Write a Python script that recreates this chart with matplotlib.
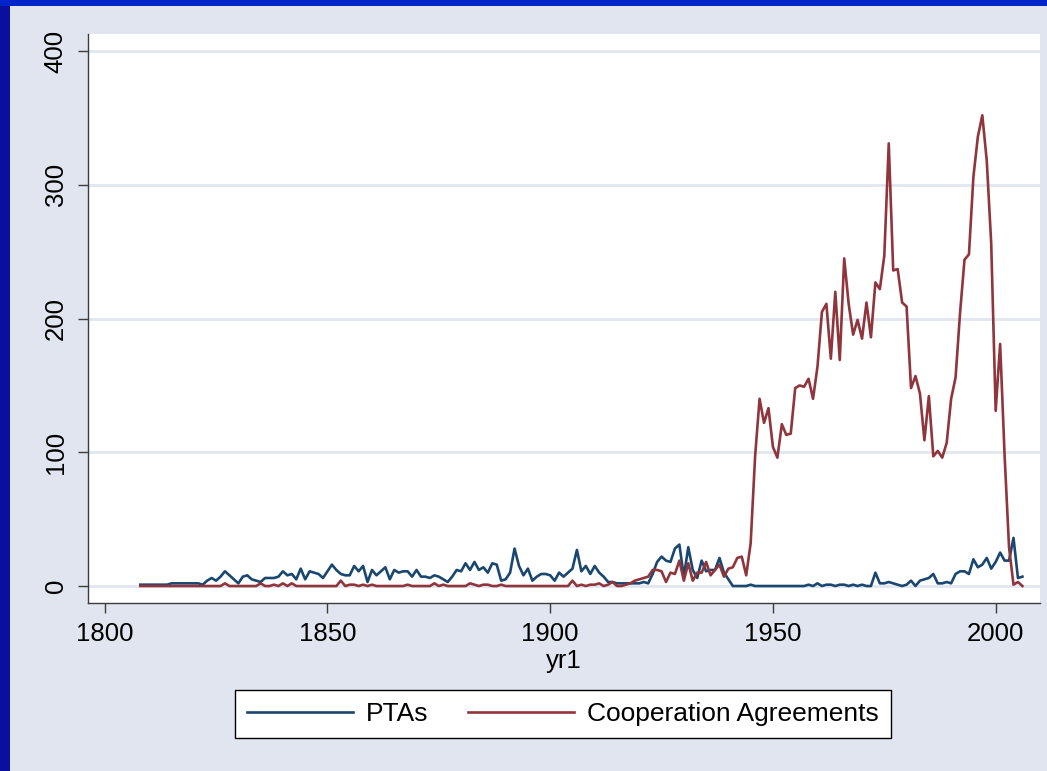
import numpy as np
import matplotlib
matplotlib.use("Agg")
import matplotlib.pyplot as plt
from matplotlib.patches import Rectangle

plt.rcParams['font.family'] = ['Liberation Sans', 'DejaVu Sans']

# yearly counts, 1808-2006
years = list(range(1808, 2007))

ptas = [
    1, 1, 1, 1, 1, 1, 1, 2, 2, 2,          # 1808-1817
    2, 2, 2, 2, 1, 4, 6, 4, 7, 11,         # 1818-1827
    8, 5, 2, 7, 8, 5, 4, 3, 6, 6,          # 1828-1837
    6, 7, 11, 8, 9, 5, 13, 5, 11, 10,      # 1838-1847
    9, 6, 11, 16, 12, 9, 8, 8, 15, 11,     # 1848-1857
    15, 3, 12, 8, 11, 14, 5, 12, 10, 11,   # 1858-1867
    11, 7, 12, 7, 7, 6, 8, 7, 5, 3,        # 1868-1877
    7, 12, 11, 17, 12, 18, 12, 14, 10, 17, # 1878-1887
    16, 4, 5, 10, 28, 15, 8, 13, 4, 7,     # 1888-1897
    9, 9, 8, 4, 10, 7, 10, 13, 27, 11,     # 1898-1907
    15, 9, 15, 10, 7, 3, 3, 2, 2, 2,       # 1908-1917
    2, 2, 2, 3, 2, 9, 18, 22, 19, 18,      # 1918-1927
    28, 31, 7, 29, 12, 6, 19, 11, 12, 12,  # 1928-1937
    21, 10, 5, 0, 0, 0, 0, 1, 0, 0,        # 1938-1947
    0, 0, 0, 0, 0, 0, 0, 0, 0, 0,          # 1948-1957
    1, 0, 2, 0, 1, 1, 0, 1, 1, 0,          # 1958-1967
    1, 0, 1, 0, 0, 10, 2, 2, 3, 2,         # 1968-1977
    1, 0, 1, 4, 0, 4, 5, 6, 9, 2,          # 1978-1987
    2, 3, 2, 9, 11, 11, 9, 20, 14, 16,     # 1988-1997
    21, 13, 18, 25, 19, 19, 36, 6, 7,      # 1998-2006
]

coop = [
    0, 0, 0, 0, 0, 0, 0, 0, 0, 0,
    0, 0, 0, 0, 0, 0, 0, 0, 0, 2,
    0, 0, 0, 0, 0, 0, 0, 2, 0, 0,
    1, 0, 2, 0, 2, 0, 0, 0, 0, 0,
    0, 0, 0, 0, 0, 4, 0, 1, 1, 0,
    1, 0, 1, 0, 0, 0, 0, 0, 0, 0,
    1, 0, 0, 0, 0, 0, 2, 0, 1, 0,
    0, 0, 0, 0, 2, 1, 0, 1, 1, 0,
    0, 1, 0, 0, 0, 0, 0, 0, 0, 0,
    0, 0, 0, 0, 0, 0, 0, 4, 0, 1,
    0, 1, 1, 2, 0, 1, 3, 0, 0, 1,
    2, 4, 5, 6, 7, 12, 12, 11, 3, 10,
    9, 19, 4, 17, 4, 10, 10, 18, 8, 12,
    16, 7, 13, 14, 21, 22, 8, 32, 97, 140,
    122, 133, 104, 96, 121, 113, 114, 148, 150, 149,
    155, 140, 164, 205, 211, 170, 220, 169, 245, 211,
    188, 199, 185, 212, 186, 227, 222, 247, 331, 236,
    237, 212, 209, 148, 157, 144, 109, 142, 97, 101,
    96, 107, 140, 156, 204, 244, 248, 306, 336, 352,
    318, 256, 131, 181, 98, 29, 1, 3, 0,
]

x_ticks = [1800, 1850, 1900, 1950, 2000]
y_ticks = [0, 100, 200, 300, 400]

W, H = 1047, 771
bg = '#e0e5ef'
grid_col = '#e1e6f0'
axis_col = '#3c3c3c'

fig = plt.figure(figsize=(W / 100, H / 100), dpi=100)
fig.patch.set_facecolor(bg)

# slide border (blue strip on the left and top)
fig.patches.append(Rectangle((0, 0), 10 / W, 1, transform=fig.transFigure,
                             facecolor='#0a0fa0', edgecolor='none', zorder=0))
fig.patches.append(Rectangle((0, 1 - 6 / H), 1, 6 / H, transform=fig.transFigure,
                             facecolor='#0024c8', edgecolor='none', zorder=0))

ax = fig.add_axes([88 / W, 1 - 603 / H, (1040 - 88) / W, (603 - 34) / H])
ax.set_facecolor('white')

ax.plot(years, ptas, color='#1a476f', lw=1.9, label='PTAs', zorder=3)
ax.plot(years, coop, color='#90353b', lw=1.9, label='Cooperation Agreements', zorder=3)

ax.set_xlim(1796.25, 2009.95)
ax.set_ylim(-12.7, 412.8)
ax.set_xticks(x_ticks)
ax.set_yticks(y_ticks)
ax.yaxis.grid(True, color=grid_col, lw=2)
ax.set_axisbelow(True)

for s in ['top', 'right']:
    ax.spines[s].set_visible(False)
for s in ['left', 'bottom']:
    ax.spines[s].set_color(axis_col)
    ax.spines[s].set_linewidth(1.0)

ax.tick_params(axis='both', direction='out', length=7.5, width=1.0,
               color=axis_col, labelsize=18.5, labelcolor='black')
ax.tick_params(axis='y', pad=7)
ax.tick_params(axis='x', pad=6)
for lab in ax.get_yticklabels():
    lab.set_rotation(90)
    lab.set_va('center')

ax.set_xlabel('yr1', fontsize=18.5, labelpad=2)

leg = fig.legend(loc='center', bbox_to_anchor=(563 / W, 1 - 714 / H), ncol=2,
                 fontsize=19, frameon=True, fancybox=False, framealpha=1,
                 handlelength=4.0, handletextpad=0.5, columnspacing=1.5,
                 borderpad=0.45)
leg.get_frame().set_edgecolor('black')
leg.get_frame().set_linewidth(1.0)
leg.get_frame().set_facecolor('white')

fig.savefig('out.png', dpi=100, facecolor=fig.get_facecolor())
